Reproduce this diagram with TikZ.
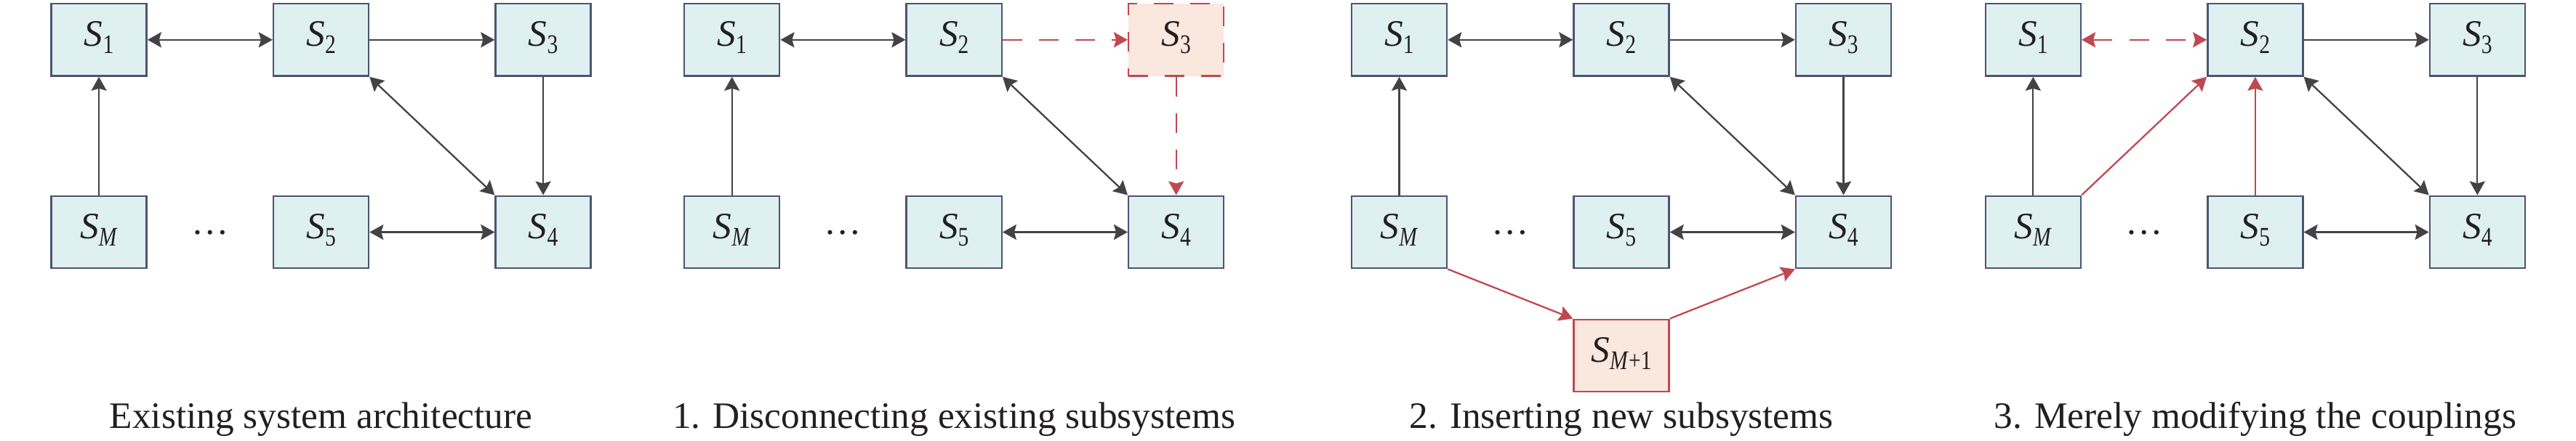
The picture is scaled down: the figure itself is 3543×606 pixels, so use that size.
\documentclass[tikz,border=0pt]{standalone}
\usepackage{fontspec}
\setmainfont{Liberation Serif}
\usepackage{graphicx}
\usetikzlibrary{arrows.meta}
\definecolor{boxfill}{RGB}{223,240,240}
\definecolor{boxline}{RGB}{76,84,114}
\definecolor{arrgray}{RGB}{68,66,69}
\definecolor{redc}{RGB}{192,72,80}
\definecolor{pinkfill}{RGB}{250,231,222}
\definecolor{txt}{RGB}{35,31,32}
\newcommand{\sysl}[1]{\textit{S}\raisebox{-0.19em}{\fontsize{10.5}{10.5}\selectfont\scalebox{0.8}[1]{#1}}}
\begin{document}
\begin{tikzpicture}[x=0.01cm,y=-0.01cm,
  >={Stealth[length=0.19cm,width=0.21cm,inset=0.03cm]},
  sysbox/.style={draw=boxline, fill=boxfill, line width=0.68pt,
    minimum width=1.31cm, minimum height=0.995cm, inner sep=0pt,
    text=txt, font=\fontsize{14.6}{16}\selectfont,
    text height=0.36cm, text depth=0.18cm},
  newbox/.style={sysbox, draw=redc, fill=pinkfill},
  link/.style={draw=arrgray, line width=0.65pt, ->},
  blink/.style={draw=arrgray, line width=0.65pt, <->},
  redlink/.style={draw=redc, line width=0.65pt, ->},
  redblink/.style={draw=redc, line width=0.65pt, <->},
  dashpat/.style={dash pattern=on 0.27cm off 0.23cm},
  dotsnode/.style={anchor=base, inner sep=0pt, text=txt, font=\fontsize{14.6}{16}\selectfont},
  caption/.style={anchor=base, inner sep=0pt, text=txt, font=\fontsize{14.6}{16}\selectfont}
]
\useasboundingbox (0,0) rectangle (3543,606);

% ---------------- Panel 1 ----------------
\node[sysbox] (a1) at (136.1,54.8) {\sysl{1}};
\node[sysbox] (a2) at (441.6,54.8) {\sysl{2}};
\node[sysbox] (a3) at (747.1,54.8) {\sysl{3}};
\node[sysbox] (am) at (136.1,319.5) {\sysl{\textit{M}}};
\node[sysbox] (a5) at (441.6,319.5) {\sysl{5}};
\node[sysbox] (a4) at (747.1,319.5) {\sysl{4}};
\node[dotsnode] (ad) at (288.85,322.3) {…};
\node[caption] (ac) at (441.6,589) {Existing system architecture};
\draw[blink] (a1) -- (a2);
\draw[link] (a2) -- (a3);
\draw[link] (a3) -- (a4);
\draw[blink] (a2.south east) -- (a4.north west);
\draw[link] (am) -- (a1);
\draw[blink] (a5) -- (a4);

% ---------------- Panel 2 ----------------
\node[sysbox] (b1) at (1006.7,54.8) {\sysl{1}};
\node[sysbox] (b2) at (1312.2,54.8) {\sysl{2}};
\node[newbox, dashpat] (b3) at (1617.7,54.8) {\sysl{3}};
\node[sysbox] (bm) at (1006.7,319.5) {\sysl{\textit{M}}};
\node[sysbox] (b5) at (1312.2,319.5) {\sysl{5}};
\node[sysbox] (b4) at (1617.7,319.5) {\sysl{4}};
\node[dotsnode] (bd) at (1159.45,322.3) {…};
\node[caption] (bc) at (1312.2,589) {1. Disconnecting existing subsystems};
\draw[blink] (b1) -- (b2);
\draw[redlink, dashpat] (b2) -- (b3);
\draw[redlink, dashpat] (b3) -- (b4);
\draw[blink] (b2.south east) -- (b4.north west);
\draw[link] (bm) -- (b1);
\draw[blink] (b5) -- (b4);

% ---------------- Panel 3 ----------------
\node[sysbox] (c1) at (1924.5,54.8) {\sysl{1}};
\node[sysbox] (c2) at (2230,54.8) {\sysl{2}};
\node[sysbox] (c3) at (2535.5,54.8) {\sysl{3}};
\node[sysbox] (cm) at (1924.5,319.5) {\sysl{\textit{M}}};
\node[sysbox] (c5) at (2230,319.5) {\sysl{5}};
\node[sysbox] (c4) at (2535.5,319.5) {\sysl{4}};
\node[newbox] (cn) at (2230,489.5) {\sysl{\textit{M}+1}};
\node[dotsnode] (cd) at (2077.25,322.3) {…};
\node[caption] (cc) at (2230,589) {2. Inserting new subsystems};
\draw[blink] (c1) -- (c2);
\draw[link] (c2) -- (c3);
\draw[link] (c3) -- (c4);
\draw[blink] (c2.south east) -- (c4.north west);
\draw[link] (cm) -- (c1);
\draw[blink] (c5) -- (c4);
\draw[redlink] (cm.south east) -- (cn.north west);
\draw[redlink] (cn.north east) -- (c4.south west);

% ---------------- Panel 4 ----------------
\node[sysbox] (d1) at (2796.3,54.8) {\sysl{1}};
\node[sysbox] (d2) at (3101.8,54.8) {\sysl{2}};
\node[sysbox] (d3) at (3407.3,54.8) {\sysl{3}};
\node[sysbox] (dm) at (2796.3,319.5) {\sysl{\textit{M}}};
\node[sysbox] (d5) at (3101.8,319.5) {\sysl{5}};
\node[sysbox] (d4) at (3407.3,319.5) {\sysl{4}};
\node[dotsnode] (dd) at (2949.05,322.3) {…};
\node[caption] (dc) at (3101.8,589) {3. Merely modifying the couplings};
\draw[redblink, dashpat] (d1) -- (d2);
\draw[link] (d2) -- (d3);
\draw[link] (d3) -- (d4);
\draw[blink] (d2.south east) -- (d4.north west);
\draw[link] (dm) -- (d1);
\draw[blink] (d5) -- (d4);
\draw[redlink] (dm.north east) -- (d2.south west);
\draw[redlink] (d5) -- (d2);
\end{tikzpicture}
\end{document}
